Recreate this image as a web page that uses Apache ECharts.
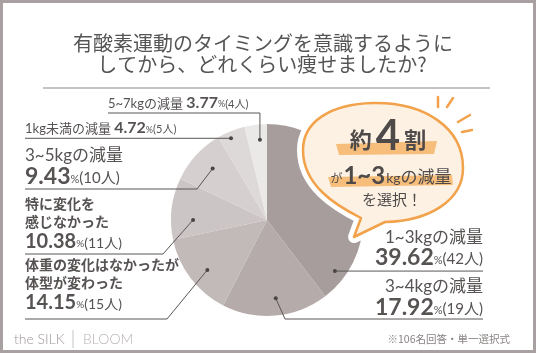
<!DOCTYPE html>
<html>
<head>
<meta charset="UTF-8">
<title>痩せた量</title>
<script src="https://cdn.jsdelivr.net/npm/echarts@6/dist/echarts.min.js"></script>
<style>
  html, body { margin: 0; padding: 0; background: #fff; }
  #chart { width: 536px; height: 353px; }
</style>
</head>
<body>
<div id="chart"></div>
<script>
// data (clockwise from 12 o'clock)
const names = ['1~3kgの減量', '3~4kgの減量', '体重の変化はなかったが\n体型が変わった', '特に変化を\n感じなかった', '3~5kgの減量', '1kg未満の減量', '5~7kgの減量'];
const counts = [42, 19, 15, 11, 10, 5, 4];
const total = counts.reduce((a, b) => a + b, 0);

const colors = ['#a89d9d', '#b5abab', '#c2b9b9', '#ccc5c5', '#d5cfcf', '#ded9d9', '#ebe8e8'];
const CX = 267, CY = 220, R = 96;
const TXT = '#575353';
const FONT = "Lato, 'Noto Sans CJK JP', sans-serif";

// where each leader starts inside its slice (t = share of slice angle, r = share of radius)
// and where its label/underline sits
const labelPos = [
    {side: 'right', x: 483, lineY: null, elbowX: null, t: 0.89, r: 0.885, size: 'L', gap: 2},
    {side: 'right', x: 483, lineY: 319, elbowX: 285, t: 0.48, r: 0.82, size: 'L', gap: 0},
    {side: 'left', x: 25, lineY: 319, elbowX: 167, t: 0.45, r: 0.81, size: 'M', gap: 5},
    {side: 'left', x: 25, lineY: 254, elbowX: 163, t: 0.32, r: 0.77, size: 'M', gap: 1},
    {side: 'left', x: 25, lineY: 189, elbowX: 197, t: 0.53, r: 0.78, size: 'L', gap: 1},
    {side: 'left', x: 25, lineY: null, elbowX: null, t: 0.40, r: 0.93, size: 'S', gap: 1},
    {side: 'left', x: 108, lineY: 113, elbowX: 'a', t: 0.63, r: 0.84, size: 'S', gap: 1},
];

function anchor(i) {
    let before = 0;
    for (let k = 0; k < i; k++) before += counts[k];
    const ang = (before + counts[i] * labelPos[i].t) / total * Math.PI * 2;
    const rr = R * labelPos[i].r;
    return [CX + rr * Math.sin(ang), CY - rr * Math.cos(ang)];
}

function leader(i) {
    const L = labelPos[i], a = anchor(i);
    const ly = L.lineY != null ? L.lineY : a[1];
    const ex = L.elbowX === 'a' || L.elbowX == null ? a[0] : L.elbowX;
    return [a, [ex, ly], [L.x, ly]];
}

function pct(i) {
    return (counts[i] / total * 100).toFixed(2);
}

const rich = {
    nL: {fontSize: 17, color: TXT, lineHeight: 20, fontFamily: FONT},
    vL: {fontSize: 23, color: TXT, lineHeight: 22, fontWeight: 'bold', fontFamily: FONT},
    uL: {fontSize: 11, color: TXT, lineHeight: 22, fontFamily: FONT, padding: [4, 0, 0, 0]},
    cL: {fontSize: 15, color: TXT, lineHeight: 22, fontFamily: FONT, padding: [2, 0, 0, 0]},
    nM: {fontSize: 14, color: TXT, lineHeight: 18, fontWeight: 'bold', fontFamily: FONT},
    vM: {fontSize: 20, color: TXT, lineHeight: 22, fontWeight: 'bold', fontFamily: FONT},
    uM: {fontSize: 10, color: TXT, lineHeight: 22, fontFamily: FONT, padding: [4, 0, 0, 0]},
    cM: {fontSize: 14, color: TXT, lineHeight: 22, fontFamily: FONT, padding: [2, 0, 0, 0]},
    nS: {fontSize: 13, color: TXT, lineHeight: 18, fontFamily: FONT, padding: [1, 0, 0, 0]},
    vS: {fontSize: 16, color: TXT, lineHeight: 18, fontWeight: 'bold', fontFamily: FONT},
    uS: {fontSize: 9, color: TXT, lineHeight: 18, fontFamily: FONT, padding: [3, 0, 0, 0]},
    cS: {fontSize: 11, color: TXT, lineHeight: 18, fontFamily: FONT, padding: [2, 0, 0, 0]},
    sp: {fontSize: 13, lineHeight: 18}
};

let chart = echarts.init(document.getElementById('chart'), null, {renderer: 'canvas'});

const bubblePath = 'M373 103 C425 102 463 128 463 168 C463 200 430 221 385 222 L354 237 L361 218 ' +
    'C335 205 303 185 303 150 C303 122 330 104 373 103 Z';
const INK = '#4e4a4a';

let graphics = [
    {type: 'rect', shape: {x: 1.5, y: 1.5, width: 533, height: 350}, style: {fill: 'none', stroke: '#a9a1a1', lineWidth: 3}, z: 100},
    {type: 'text', x: 263, y: 43, style: {text: '有酸素運動のタイミングを意識するように', fontSize: 20, fill: '#555', fontFamily: "'Noto Sans CJK JP'", align: 'center', verticalAlign: 'middle'}},
    {type: 'text', x: 262, y: 64, style: {text: 'してから、どれくらい痩せましたか?', fontSize: 20, fill: '#555', fontFamily: "'Noto Sans CJK JP'", align: 'center', verticalAlign: 'middle'}},
    {type: 'line', shape: {x1: 43, y1: 88, x2: 490, y2: 88}, style: {stroke: '#8d8585', lineWidth: 1}},
    {type: 'polygon', shape: {points: [[336, 144], [437, 141], [434, 154], [339, 155]]}, style: {fill: '#f6b568', opacity: 0.85}, z: 22},
    {type: 'polygon', shape: {points: [[328, 177], [452, 175], [453, 185], [331, 187]]}, style: {fill: '#f6b568', opacity: 0.85}, z: 22},
    {type: 'text', x: 388, y: 136, style: {
        text: '{a|約}{b|4}{a|割}', align: 'center', verticalAlign: 'middle',
        rich: {a: {fontSize: 22, fontWeight: 'bold', fill: INK, fontFamily: "'Noto Sans CJK JP'", padding: [7, 0, 0, 0]},
               b: {fontSize: 42, fontWeight: 'bold', fill: INK, fontFamily: 'Lato, sans-serif', padding: [0, 4, 0, 4]}}
    }, z: 23},
    {type: 'text', x: 391, y: 176, style: {
        text: '{s|が}{b|1~3}{k|kg}{m|の減量}', align: 'center', verticalAlign: 'middle',
        rich: {s: {fontSize: 12, fill: INK, fontFamily: "'Noto Sans CJK JP'", padding: [4, 1, 0, 0]},
               b: {fontSize: 24, fontWeight: 'bold', fill: INK, fontFamily: 'Lato, sans-serif'},
               k: {fontSize: 14, fill: INK, fontFamily: 'Lato, sans-serif', padding: [4, 0, 0, 1]},
               m: {fontSize: 17, fill: INK, fontFamily: "'Noto Sans CJK JP'", padding: [2, 0, 0, 0]}}
    }, z: 23},
    {type: 'text', x: 392, y: 199, style: {text: 'を選択！', fontSize: 15, fill: INK, fontFamily: "'Noto Sans CJK JP'", align: 'center', verticalAlign: 'middle'}, z: 23},
    // footer
    {type: 'text', x: 14, y: 339, style: {text: 'the SILK', fontSize: 14, fill: '#9d9797', fontFamily: 'Lato, sans-serif', fontWeight: 300, verticalAlign: 'middle'}},
    {type: 'line', shape: {x1: 73, y1: 330, x2: 73, y2: 348}, style: {stroke: '#c8c2c2', lineWidth: 1}},
    {type: 'text', x: 83, y: 339, style: {text: 'BLOOM', fontSize: 14, fill: '#b8b2b2', fontFamily: 'Lato, sans-serif', fontWeight: 300, verticalAlign: 'middle'}},
    {type: 'text', x: 510, y: 339, style: {text: '※106名回答・単一選択式', fontSize: 10.5, fill: '#8a8484', fontFamily: "'Noto Sans CJK JP'", align: 'right', verticalAlign: 'middle'}}
];

// sun rays
[[438, 97, 438, 107], [447, 107, 453, 98], [458, 122, 470, 115], [462, 132, 472, 130]].forEach(l => {
    graphics.push({type: 'line', shape: {x1: l[0], y1: l[1], x2: l[2], y2: l[3]}, style: {stroke: '#f2a24a', lineWidth: 2.5, lineCap: 'round'}, z: 21});
});

// leader lines + dots, from each slice's angle
counts.forEach((c, i) => {
    const pts = leader(i);
    graphics.push({type: 'polyline', shape: {points: pts}, style: {stroke: '#5a5555', lineWidth: 1, fill: 'none'}, z: 29});
    graphics.push({type: 'circle', shape: {cx: pts[0][0], cy: pts[0][1], r: 2}, style: {fill: '#4a4545'}, z: 30});
});

let option = {
    animation: false,
    backgroundColor: '#fff',
    graphic: graphics,
    series: [{
        type: 'pie',
        center: [CX, CY],
        radius: R,
        startAngle: 90,
        clockwise: true,
        avoidLabelOverlap: false,
        emphasis: {disabled: true},
        itemStyle: {borderWidth: 0},
        data: names.map((n, i) => ({name: n, value: counts[i], itemStyle: {color: colors[i]}})),
        label: {
            show: true,
            position: 'outside',
            color: TXT,
            fontFamily: FONT,
            rich: rich,
            formatter: p => {
                const i = p.dataIndex, s = labelPos[i].size;
                const lines = names[i].split('\n').map(t => `{n${s}|${t}}`);
                const num = `{v${s}|${pct(i)}}{u${s}|%}{c${s}|(${counts[i]}人)}`;
                return s === 'S' ? lines[0] + '{sp| }' + num : lines.concat(num).join('\n');
            }
        },
        labelLine: {show: false},
        labelLayout: p => {
            const i = p.dataIndex, L = labelPos[i];
            const ly = leader(i)[2][1];
            return {x: L.x, y: ly - L.gap, align: L.side, verticalAlign: 'bottom'};
        }
    }, {
        // speech bubble drawn over the pie
        type: 'custom',
        coordinateSystem: 'none',
        silent: true,
        z: 10,
        data: [0],
        renderItem: () => ({
            type: 'group',
            children: [
                {type: 'path', shape: {pathData: bubblePath}, style: {fill: '#fff', stroke: '#fff', lineWidth: 12, lineJoin: 'round'}},
                {type: 'path', shape: {pathData: bubblePath}, style: {fill: '#fdf1e3', stroke: '#f2a24a', lineWidth: 2.5, lineJoin: 'round'}}
            ]
        })
    }]
};

chart.setOption(option);
</script>
</body>
</html>
